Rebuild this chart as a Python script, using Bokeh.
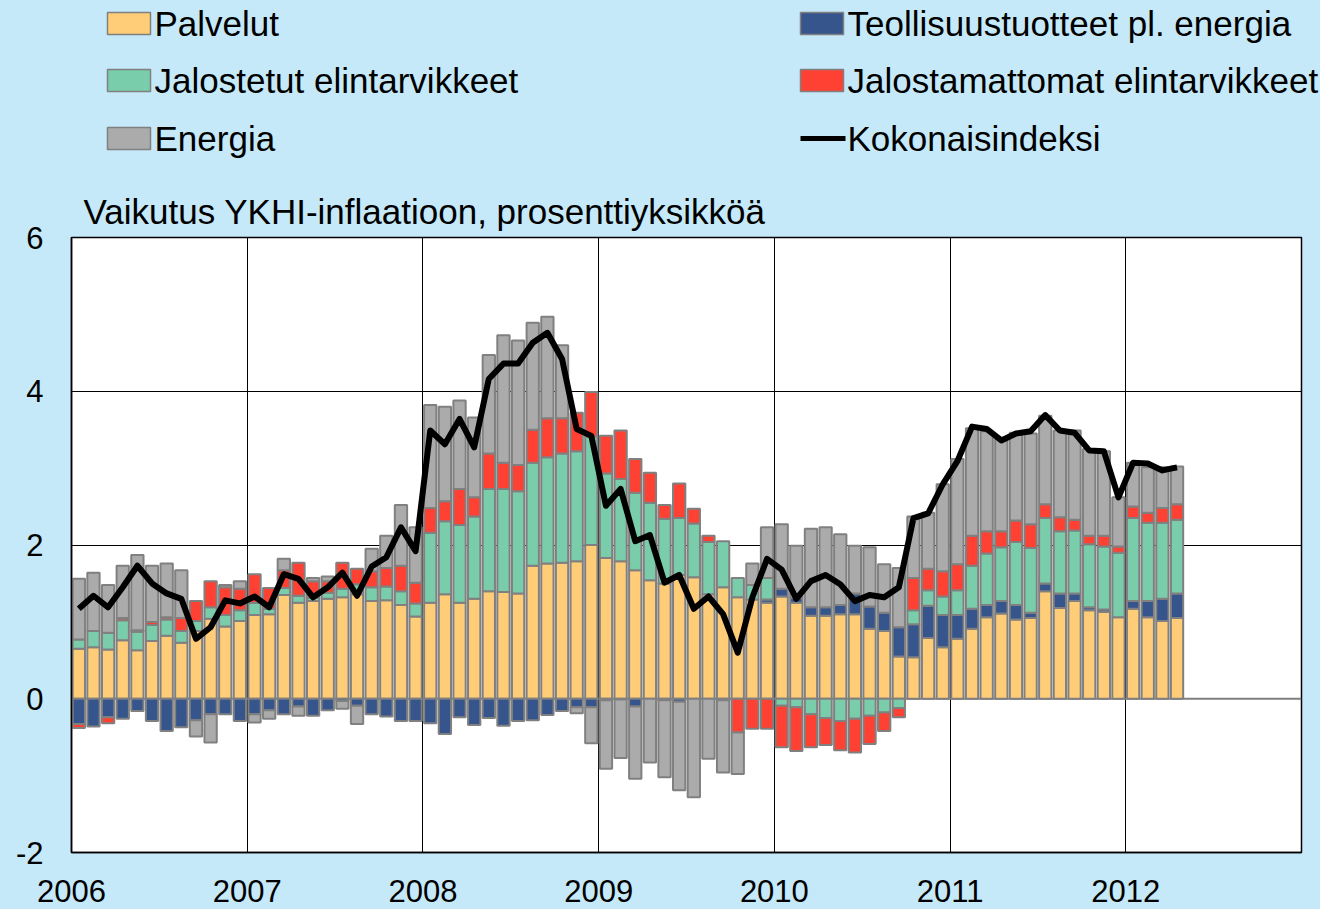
import numpy as np
from bokeh.plotting import figure
from bokeh.layouts import column
from bokeh.models import FixedTicker, Span, Range1d, ColumnDataSource
from bokeh.core.properties import value
from bokeh.embed import file_html
from bokeh.resources import INLINE

# ---- data: monthly contributions (percentage points), Jan 2006 .. Apr 2012 ----
start_year = 2006
n_months = 76
palvelut = [0.65, 0.67, 0.64, 0.76, 0.63, 0.75, 0.82, 0.73, 0.88, 1.04, 0.94, 1.01,
            1.09, 1.10, 1.35, 1.25, 1.27, 1.30, 1.32, 1.36, 1.27, 1.28, 1.22, 1.07,
            1.25, 1.36, 1.25, 1.30, 1.40, 1.39, 1.37, 1.73, 1.76, 1.77, 1.79, 2.00,
            1.83, 1.79, 1.67, 1.54, 1.50, 1.61, 1.58, 1.36, 1.45, 1.32, 1.29, 1.25,
            1.33, 1.25, 1.08, 1.08, 1.10, 1.10, 0.91, 0.88, 0.55, 0.54, 0.79, 0.67,
            0.78, 0.91, 1.06, 1.11, 1.03, 1.05, 1.40, 1.18, 1.27, 1.15, 1.13, 1.06,
            1.17, 1.06, 1.01, 1.05]
teollisuus = [-0.33, -0.36, -0.24, -0.26, -0.16, -0.29, -0.42, -0.37, -0.28, -0.20, -0.20, -0.29,
              -0.20, -0.15, -0.20, -0.10, -0.22, -0.15, -0.03, -0.09, -0.20, -0.23, -0.29, -0.29,
              -0.32, -0.46, -0.24, -0.34, -0.25, -0.35, -0.29, -0.28, -0.21, -0.16, -0.11, -0.11,
              -0.02, -0.01, -0.10, 0.0, -0.02, -0.04, 0.0, 0.0, 0.0, 0.0, 0.0, 0.04,
              0.10, 0.06, 0.11, 0.11, 0.12, 0.27, 0.29, 0.24, 0.38, 0.43, 0.42, 0.42,
              0.31, 0.26, 0.16, 0.16, 0.19, 0.07, 0.10, 0.19, 0.10, 0.04, 0.03, 0.0,
              0.10, 0.21, 0.29, 0.32]
jalostetut = [0.12, 0.21, 0.22, 0.26, 0.24, 0.21, 0.21, 0.15, 0.13, 0.15, 0.15, 0.14,
              0.16, 0.07, 0.09, 0.09, 0.04, 0.08, 0.11, 0.13, 0.18, 0.18, 0.18, 0.17,
              0.91, 0.95, 1.01, 1.07, 1.33, 1.34, 1.33, 1.34, 1.38, 1.42, 1.43, 1.41,
              1.10, 1.07, 1.01, 1.01, 0.84, 0.74, 0.70, 0.68, 0.60, 0.25, 0.19, 0.28,
              -0.09, -0.11, -0.20, -0.25, -0.29, -0.26, -0.22, -0.18, -0.12, 0.18, 0.20, 0.24,
              0.32, 0.56, 0.67, 0.70, 0.82, 0.84, 0.85, 0.81, 0.82, 0.82, 0.82, 0.84,
              1.08, 1.02, 0.99, 0.96]
jalostamattomat = [-0.05, 0.0, -0.08, 0.03, 0.02, 0.04, 0.03, 0.17, 0.26, 0.34, 0.36, 0.28,
                   0.37, 0.27, 0.23, 0.43, 0.22, 0.15, 0.34, 0.20, 0.21, 0.24, 0.33, 0.27,
                   0.32, 0.26, 0.47, 0.25, 0.46, 0.34, 0.34, 0.43, 0.51, 0.46, 0.50, 0.58,
                   0.49, 0.63, 0.44, 0.39, 0.18, 0.45, 0.19, 0.08, -0.02, -0.44, -0.39, -0.39,
                   -0.54, -0.57, -0.43, -0.35, -0.38, -0.44, -0.37, -0.24, -0.12, 0.42, 0.28, 0.33,
                   0.34, 0.39, 0.29, 0.21, 0.28, 0.31, 0.18, 0.18, 0.14, 0.11, 0.14, 0.08,
                   0.15, 0.13, 0.19, 0.20]
energia = [0.79, 0.76, 0.62, 0.68, 0.98, 0.73, 0.70, 0.62, -0.21, -0.37, 0.03, 0.10,
           -0.11, -0.11, 0.15, -0.12, 0.04, 0.06, -0.10, -0.24, 0.29, 0.42, 0.79, 0.72,
           1.34, 1.23, 1.15, 1.04, 1.28, 1.66, 1.62, 1.39, 1.32, 0.95, -0.08, -0.47,
           -0.89, -0.76, -0.94, -0.83, -1.00, -1.15, -1.28, -0.78, -0.94, -0.54, 0.28, 0.66,
           0.84, 0.68, 1.02, 1.04, 0.92, 0.62, 0.77, 0.63, 0.77, 0.80, 0.73, 1.13,
           1.37, 1.40, 1.30, 1.20, 1.14, 1.18, 1.15, 1.13, 1.16, 1.13, 1.10, 0.64,
           0.57, 0.59, 0.53, 0.49]
kokonaisindeksi = [1.17, 1.34, 1.19, 1.45, 1.73, 1.50, 1.37, 1.30, 0.78, 0.93, 1.28, 1.24,
                   1.33, 1.19, 1.62, 1.56, 1.32, 1.45, 1.64, 1.34, 1.72, 1.84, 2.23, 1.92,
                   3.49, 3.31, 3.64, 3.27, 4.16, 4.36, 4.36, 4.63, 4.76, 4.42, 3.51, 3.42,
                   2.51, 2.73, 2.05, 2.13, 1.51, 1.61, 1.17, 1.33, 1.10, 0.60, 1.32, 1.82,
                   1.68, 1.30, 1.53, 1.61, 1.49, 1.27, 1.35, 1.32, 1.45, 2.35, 2.41, 2.79,
                   3.09, 3.54, 3.51, 3.36, 3.45, 3.48, 3.69, 3.49, 3.46, 3.23, 3.22, 2.62,
                   3.07, 3.06, 2.97, 3.01]
series_names = ["Palvelut", "Teollisuustuotteet pl. energia", "Jalostetut elintarvikkeet",
                "Jalostamattomat elintarvikkeet", "Energia"]
line_name = "Kokonaisindeksi"
year_ticks = [2006, 2007, 2008, 2009, 2010, 2011, 2012]
y_ticks = [-2, 0, 2, 4, 6]
title_text = "Vaikutus YKHI-inflaatioon, prosenttiyksikköä"

# ---- styles ----
colors = ["#FFCC77", "#35558C", "#79CDAA", "#FF4133", "#ABABAB"]
BAR_LINE = "#808080"
BG = "#c5e9f8"
FONT = "Liberation Sans"
W = 1320
TOP_H = 170
MAIN_H = 909 - TOP_H

x = np.array([start_year + (m + 0.5) / 12 for m in range(n_months)])

# ---- main chart ----
p = figure(width=W, height=MAIN_H, output_backend="svg", toolbar_location=None,
           x_range=Range1d(2006, 2013), y_range=Range1d(-2, 6),
           min_border_left=71, min_border_right=19, min_border_top=237 - TOP_H,
           min_border_bottom=57)
p.border_fill_color = BG
p.background_fill_color = "white"
p.outline_line_color = "black"
p.outline_line_width = 1.5

p.title.text = title_text
p.title.align = "left"
p.title.offset = 12
p.title.standoff = 14
p.title.text_font = FONT
p.title.text_font_size = "35px"
p.title.text_font_style = "normal"
p.title.text_color = "black"

p.xgrid.ticker = FixedTicker(ticks=year_ticks[1:])
p.xgrid.grid_line_color = "black"
p.xgrid.grid_line_width = 1
p.ygrid.ticker = FixedTicker(ticks=[2, 4])
p.ygrid.grid_line_color = "black"
p.ygrid.grid_line_width = 1
p.add_layout(Span(location=0, dimension="width", line_color="#7f7f7f", line_width=2, level="underlay"))

pos_base = np.zeros(n_months)
neg_base = np.zeros(n_months)
for name, vals, color in zip(series_names,
                             [palvelut, teollisuus, jalostetut, jalostamattomat, energia], colors):
    v = np.array(vals, dtype=float)
    bottom = np.where(v >= 0, pos_base, neg_base + v)
    top = np.where(v >= 0, pos_base + v, neg_base)
    mask = v != 0
    src = ColumnDataSource(dict(x=x[mask], bottom=bottom[mask], top=top[mask]))
    p.vbar(x="x", width=0.84 / 12, bottom="bottom", top="top", source=src,
           fill_color=color, line_color=BAR_LINE, line_width=2)
    pos_base = pos_base + np.maximum(v, 0)
    neg_base = neg_base + np.minimum(v, 0)

p.line(x, kokonaisindeksi, line_color="black", line_width=6, line_join="round")

p.xaxis.ticker = FixedTicker(ticks=year_ticks)
p.xaxis.major_label_overrides = {t: str(t) for t in year_ticks}
p.yaxis.ticker = FixedTicker(ticks=y_ticks)
p.yaxis.major_label_overrides = {t: str(t) for t in y_ticks}
for ax in (p.xaxis[0], p.yaxis[0]):
    ax.major_tick_in = 0
    ax.major_tick_out = 0
    ax.minor_tick_in = 0
    ax.minor_tick_out = 0
    ax.axis_line_color = "black"
    ax.axis_line_width = 1.5
    ax.major_label_text_font = FONT
    ax.major_label_text_font_size = "31px"
    ax.major_label_text_color = "black"
p.xaxis.major_label_standoff = 27
p.yaxis.major_label_standoff = 28

# ---- top strip: legend (pixel coordinates) ----
t = figure(width=W, height=TOP_H, output_backend="svg", toolbar_location=None,
           x_range=Range1d(0, W), y_range=Range1d(TOP_H, 0),
           x_axis_location=None, y_axis_location=None,
           min_border_left=0, min_border_right=0, min_border_top=0, min_border_bottom=0)
if hasattr(t, "frame_align"):
    t.frame_align = False
    p.frame_align = False
t.grid.visible = False
t.outline_line_color = None
t.background_fill_color = BG
t.border_fill_color = BG

row_y = [23, 80, 138]
col_x = [107, 800]
sw_w, sw_h, gap = 43, 22, 4
left_items = [0, 2, 4]
right_items = [1, 3]

for ci, idxs in enumerate([left_items, right_items]):
    xs0 = col_x[ci]
    ys = row_y[:len(idxs)]
    t.quad(left=[xs0] * len(idxs), right=[xs0 + sw_w] * len(idxs),
           top=[yy - sw_h / 2 for yy in ys], bottom=[yy + sw_h / 2 for yy in ys],
           fill_color=[colors[i] for i in idxs], line_color=BAR_LINE, line_width=1.5)
    t.text(x=[xs0 + sw_w + gap] * len(idxs), y=ys, text=[series_names[i] for i in idxs],
           text_font=value(FONT), text_font_size="35px", text_baseline="middle",
           text_align="left", text_color="black")

t.line(x=[col_x[1], col_x[1] + sw_w + 2], y=[row_y[2], row_y[2]], line_color="black", line_width=5)
t.text(x=[col_x[1] + sw_w + gap], y=[row_y[2]], text=[line_name],
       text_font=value(FONT), text_font_size="35px", text_baseline="middle",
       text_align="left", text_color="black")

layout = column(t, p, spacing=0, styles={"background-color": BG})
open("out.html", "w").write(file_html(layout, INLINE))
